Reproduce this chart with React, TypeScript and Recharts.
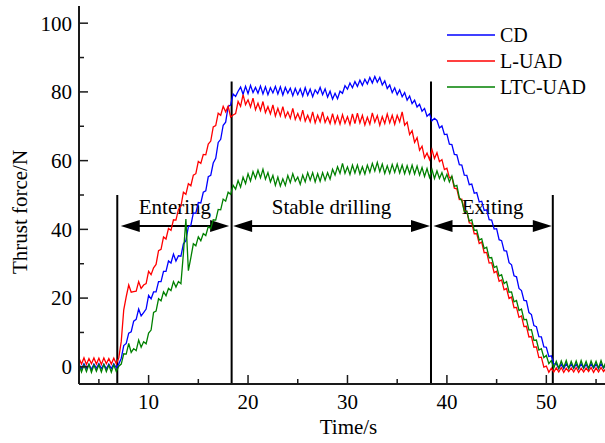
import React from 'react';
import { LineChart, Line, XAxis, YAxis, ReferenceLine, Legend } from 'recharts';

const FONT = "'Liberation Serif', 'Times New Roman', Times, serif";

// sampling instants (s), one row = 2 s
const time = [
  3, 3.25, 3.5, 3.75, 4, 4.25, 4.5, 4.75,
  5, 5.25, 5.5, 5.75, 6, 6.25, 6.5, 6.75,
  7, 7.25, 7.5, 7.75, 8, 8.25, 8.5, 8.75,
  9, 9.25, 9.5, 9.75, 10, 10.25, 10.5, 10.75,
  11, 11.25, 11.5, 11.75, 12, 12.25, 12.5, 12.75,
  13, 13.25, 13.5, 13.75, 14, 14.25, 14.5, 14.75,
  15, 15.25, 15.5, 15.75, 16, 16.25, 16.5, 16.75,
  17, 17.25, 17.5, 17.75, 18, 18.25, 18.5, 18.75,
  19, 19.25, 19.5, 19.75, 20, 20.25, 20.5, 20.75,
  21, 21.25, 21.5, 21.75, 22, 22.25, 22.5, 22.75,
  23, 23.25, 23.5, 23.75, 24, 24.25, 24.5, 24.75,
  25, 25.25, 25.5, 25.75, 26, 26.25, 26.5, 26.75,
  27, 27.25, 27.5, 27.75, 28, 28.25, 28.5, 28.75,
  29, 29.25, 29.5, 29.75, 30, 30.25, 30.5, 30.75,
  31, 31.25, 31.5, 31.75, 32, 32.25, 32.5, 32.75,
  33, 33.25, 33.5, 33.75, 34, 34.25, 34.5, 34.75,
  35, 35.25, 35.5, 35.75, 36, 36.25, 36.5, 36.75,
  37, 37.25, 37.5, 37.75, 38, 38.25, 38.5, 38.75,
  39, 39.25, 39.5, 39.75, 40, 40.25, 40.5, 40.75,
  41, 41.25, 41.5, 41.75, 42, 42.25, 42.5, 42.75,
  43, 43.25, 43.5, 43.75, 44, 44.25, 44.5, 44.75,
  45, 45.25, 45.5, 45.75, 46, 46.25, 46.5, 46.75,
  47, 47.25, 47.5, 47.75, 48, 48.25, 48.5, 48.75,
  49, 49.25, 49.5, 49.75, 50, 50.25, 50.5, 50.75,
  51, 51.25, 51.5, 51.75, 52, 52.25, 52.5, 52.75,
  53, 53.25, 53.5, 53.75, 54, 54.25, 54.5, 54.75,
  55, 55.25, 55.5, 55.75, 56,
];

// CD thrust force (N)
const cd = [
  0.8, -0.6, 0.9, -0.5, 0.7, -0.7, 0.8, -0.4,
  0.9, -0.5, 0.7, -0.6, 0.8, -0.5, 0.9, -0.3,
  0.8, 2.5, 6.2, 6.8, 9.8, 10.2, 13.3, 13.8,
  16.8, 14.8, 15.8, 16.8, 20.8, 19.8, 21.8, 21.8,
  24.8, 24.8, 27.8, 27.8, 30.8, 30.2, 32.8, 30.8,
  32.3, 32.2, 35.8, 36.7, 40.8, 41.2, 44.8, 44.7,
  47.8, 47.7, 50.8, 51.2, 55.3, 55.7, 59.3, 60.7,
  65.3, 66.2, 70.3, 71.2, 75.8, 76.2, 79.4, 78.7,
  80.2, 81.4, 79.3, 81.6, 79.5, 81.9, 79.8, 81.3,
  79.6, 81.7, 79.4, 81.5, 79.2, 81.2, 79.7, 81.6,
  79.4, 81.5, 79.1, 81.3, 79.6, 81.1, 78.9, 81.0,
  79.2, 80.9, 78.8, 81.2, 79.0, 80.8, 78.6, 80.6,
  79.5, 81.3, 79.2, 80.9, 78.5, 80.2, 77.9, 79.6,
  78.0, 80.2, 79.6, 81.8, 80.8, 82.6, 81.2, 83.0,
  81.6, 83.4, 81.9, 83.7, 82.3, 84.2, 82.6, 84.5,
  82.8, 84.2, 82.0, 83.2, 81.0, 82.0, 79.8, 81.2,
  79.2, 80.6, 78.6, 79.8, 77.6, 78.8, 76.6, 77.6,
  75.6, 76.4, 74.4, 75.2, 72.9, 73.6, 71.6, 72.3,
  71.7, 69.5, 70.1, 67.6, 67.7, 64.8, 64.7, 61.8,
  61.7, 58.8, 58.7, 55.8, 55.7, 53.0, 53.2, 50.5,
  50.7, 48.0, 48.2, 45.5, 45.7, 42.8, 42.7, 40.1,
  40.2, 37.0, 36.7, 33.8, 33.7, 30.3, 29.7, 26.5,
  26.2, 22.8, 22.2, 19.3, 19.2, 15.8, 15.2, 12.0,
  11.7, 8.8, 8.7, 5.8, 5.7, 3.0, 3.2, 0.8,
  0.9, -0.5, 0.8, -0.6, 0.9, -0.4, 0.8, -0.5,
  0.8, -0.6, 0.9, -0.5, 0.7, -0.6, 0.9, -0.4,
  0.8, -0.5, 0.9, -0.4, 0.7,
];

// L-UAD thrust force (N)
const luad = [
  2.5, 0.8, 2.6, 0.7, 2.4, 0.9, 2.6, 0.8,
  2.5, 0.7, 2.6, 0.9, 2.4, 0.8, 2.5, 0.9,
  2.6, 7.4, 16.6, 20.4, 23.8, 21.7, 21.9, 22.0,
  24.8, 22.8, 23.8, 24.2, 27.8, 26.8, 28.8, 29.8,
  33.8, 34.2, 37.8, 37.2, 40.3, 39.7, 42.8, 42.7,
  45.8, 46.7, 50.8, 50.2, 53.3, 52.7, 55.8, 56.2,
  59.8, 59.2, 61.8, 61.7, 64.8, 65.7, 69.8, 70.2,
  73.8, 73.2, 75.8, 74.2, 75.8, 72.7, 73.3, 73.7,
  77.2, 75.8, 79.2, 76.3, 77.7, 75.6, 78.2, 74.8,
  76.7, 74.6, 77.2, 74.0, 75.7, 73.6, 76.2, 73.0,
  75.2, 73.0, 75.7, 72.6, 74.2, 72.3, 75.2, 72.0,
  73.7, 71.8, 74.7, 71.5, 73.2, 71.3, 74.2, 71.0,
  73.2, 71.3, 74.2, 71.1, 72.7, 70.8, 73.7, 70.8,
  73.0, 70.6, 73.4, 70.9, 72.8, 70.5, 73.6, 70.8,
  73.8, 71.0, 73.2, 70.4, 72.6, 70.6, 73.9, 71.2,
  73.1, 70.3, 72.8, 70.8, 73.6, 71.0, 73.2, 70.6,
  73.2, 71.3, 74.2, 70.3, 71.2, 67.6, 68.7, 65.3,
  66.7, 63.0, 64.2, 60.8, 62.2, 60.3, 63.2, 60.6,
  62.3, 59.7, 60.3, 57.4, 57.8, 55.0, 55.3, 52.0,
  51.8, 48.7, 48.8, 45.4, 45.3, 41.9, 41.8, 38.7,
  38.8, 35.9, 36.3, 33.2, 33.3, 30.2, 30.3, 27.4,
  27.8, 24.9, 25.3, 22.4, 22.8, 19.9, 20.3, 17.2,
  17.3, 14.4, 14.8, 11.7, 11.8, 8.7, 8.8, 5.7,
  5.8, 2.7, 2.8, -0.1, 0.2, -1.6, -0.4, -1.5,
  -0.3, -1.5, -0.2, -1.6, -0.4, -1.4, -0.3, -1.5,
  -0.2, -1.6, -0.4, -1.5, -0.3, -1.4, -0.2, -1.6,
  -0.3, -1.5, -0.2, -1.4, -0.4,
];

// LTC-UAD thrust force (N)
const ltcuad = [
  0.6, -1.5, 0.5, -1.4, 0.7, -1.6, 0.5, -1.3,
  0.6, -1.5, 0.7, -1.4, 0.5, -1.6, 0.6, -1.4,
  0.2, 0.8, 3.8, 3.7, 6.8, 4.2, 5.3, 4.7,
  7.8, 5.7, 7.3, 6.7, 9.8, 10.7, 15.8, 16.2,
  19.8, 19.2, 21.8, 20.7, 22.8, 22.2, 24.8, 23.2,
  24.8, 24.2, 33, 43, 28, 31.8, 35.8, 35.2,
  37.8, 36.7, 38.8, 38.2, 40.8, 40.2, 42.8, 42.7,
  45.8, 45.7, 48.8, 48.2, 50.8, 50.2, 52.8, 51.7,
  54.2, 52.3, 55.2, 53.3, 56.2, 54.1, 56.8, 54.8,
  57.2, 55.0, 57.5, 54.6, 56.5, 53.8, 55.7, 52.8,
  55.2, 52.6, 54.7, 52.8, 55.7, 53.6, 56.2, 54.0,
  55.2, 53.1, 55.8, 53.8, 56.5, 54.3, 56.5, 53.8,
  56.2, 54.0, 56.5, 54.3, 56.5, 54.6, 57.5, 55.8,
  58.2, 56.3, 59.2, 56.3, 58.2, 56.0, 58.7, 56.4,
  58.7, 56.1, 58.2, 56.1, 58.7, 56.6, 59.2, 57.0,
  59.5, 56.8, 59.0, 56.3, 58.5, 56.3, 58.9, 56.6,
  59.0, 56.4, 58.7, 56.2, 58.5, 56.2, 58.7, 56.1,
  58.4, 55.8, 58.0, 55.4, 57.7, 55.1, 57.4, 54.8,
  57.0, 54.8, 56.5, 54.2, 56.0, 53.8, 55.5, 52.5,
  52.8, 49.2, 48.3, 45.2, 45.3, 42.4, 42.8, 39.7,
  39.8, 36.9, 37.3, 34.4, 34.8, 31.7, 31.8, 28.9,
  29.3, 26.4, 26.8, 24.2, 24.8, 21.7, 21.8, 18.9,
  19.3, 16.4, 16.8, 13.7, 13.8, 10.7, 10.8, 7.7,
  7.8, 4.9, 5.3, 2.7, 3.3, 0.9, 1.8, -0.3,
  1.6, -0.4, 1.7, -0.2, 1.8, -0.5, 1.6, -0.3,
  1.7, -0.4, 1.8, -0.3, 1.6, -0.5, 1.7, -0.2,
  1.6, -0.4, 1.8, -0.3, 1.5,
];

const xTicks = [5, 10, 15, 20, 25, 30, 35, 40, 45, 50, 55];
const yTicks = [0, 10, 20, 30, 40, 50, 60, 70, 80, 90, 100];

// stage boundaries (s) and the heights (N) their marker lines reach
const stageBounds = [6.85, 18.35, 38.4, 50.65];
const stageTops = [50, 83, 83, 50];
const stageNames = ['Entering', 'Stable drilling', 'Exiting'];
const stageArrowFrom = [7.2, 18.5, 38.65];
const stageArrowTo = [18.1, 38.3, 50.55];
const arrowLevel = 41;

const rows = time.map((t, i) => ({ t, cd: cd[i], luad: luad[i], ltc: ltcuad[i] }));

const AX = '#1a1a1a';
const BOTTOM_MARGIN = 10;
const LEFT_MARGIN = 7;

const BottomTick = (props: any) => {
  const { x, y, payload } = props;
  const v = payload.value;
  const major = v % 10 === 0;
  const base = y - BOTTOM_MARGIN;
  return (
    <g>
      <line x1={x} y1={base} x2={x} y2={base - (major ? 9 : 5)} stroke={AX} strokeWidth={1.5} />
      {major && (
        <text x={x} y={y} dy="0.71em" textAnchor="middle" fontSize={21} fontFamily={FONT} fill="#000">
          {v}
        </text>
      )}
    </g>
  );
};

const TopTick = (props: any) => {
  const { x, y, payload } = props;
  const major = payload.value % 10 === 0;
  return <line x1={x} y1={y} x2={x} y2={y + (major ? 9 : 5)} stroke={AX} strokeWidth={1.5} />;
};

const LeftTick = (props: any) => {
  const { x, y, payload } = props;
  const v = payload.value;
  const major = v % 20 === 0;
  const base = x + LEFT_MARGIN;
  return (
    <g>
      <line x1={base} y1={y} x2={base + (major ? 9 : 5)} y2={y} stroke={AX} strokeWidth={1.5} />
      {major && (
        <text x={x} y={y} dy="0.35em" textAnchor="end" fontSize={21} fontFamily={FONT} fill="#000">
          {v}
        </text>
      )}
    </g>
  );
};

const RightTick = (props: any) => {
  const { x, y, payload } = props;
  const major = payload.value % 20 === 0;
  return <line x1={x} y1={y} x2={x - (major ? 9 : 5)} y2={y} stroke={AX} strokeWidth={1.5} />;
};

const arrowShape = (label: string) => (props: any) => {
  const { x1, y1, x2 } = props;
  const left = Math.min(x1, x2);
  const right = Math.max(x1, x2);
  const L = 19;
  const H = 6;
  return (
    <g>
      <line x1={left + L - 2} y1={y1} x2={right - L + 2} y2={y1} stroke="#000" strokeWidth={2} />
      <polygon points={`${left},${y1} ${left + L},${y1 - H} ${left + L},${y1 + H}`} fill="#000" />
      <polygon points={`${right},${y1} ${right - L},${y1 - H} ${right - L},${y1 + H}`} fill="#000" />
      <text x={(left + right) / 2} y={y1 - 12} textAnchor="middle" fontSize={21} fontFamily={FONT} fill="#000">
        {label}
      </text>
    </g>
  );
};

const yTitle = (props: any) => {
  const vb = props.viewBox || {};
  const cx = vb.x + 20;
  const cy = vb.y + vb.height / 2 + 17;
  return (
    <text
      x={cx}
      y={cy}
      transform={`rotate(-90, ${cx}, ${cy})`}
      textAnchor="middle"
      dominantBaseline="central"
      fontSize={21}
      fontFamily={FONT}
      fill="#000"
    >
      Thrust force/N
    </text>
  );
};

const xTitle = (props: any) => {
  const vb = props.viewBox || {};
  return (
    <text x={vb.x + vb.width / 2 + 6} y={vb.y + 50} textAnchor="middle" fontSize={21} fontFamily={FONT} fill="#000">
      Time/s
    </text>
  );
};

const renderLegend = (props: any) => {
  const { payload = [] } = props;
  return (
    <div style={{ fontFamily: FONT, fontSize: 20, color: '#000' }}>
      {payload.map((e: any) => (
        <div key={e.value} style={{ display: 'flex', alignItems: 'center', height: 26 }}>
          <svg width={48} height={4} style={{ display: 'block' }}>
            <line x1={0} y1={2} x2={48} y2={2} stroke={e.color} strokeWidth={1.5} />
          </svg>
          <span style={{ marginLeft: 5, lineHeight: '26px', whiteSpace: 'nowrap' }}>{e.value}</span>
        </div>
      ))}
    </div>
  );
};

export default function App() {
  return (
    <div style={{ position: 'absolute', left: 0, top: 0, width: 605, height: 443, overflow: 'hidden', background: '#fff' }}>
      <LineChart width={607} height={443} data={rows} margin={{ top: 6, right: 1, bottom: 0, left: 0 }}>
        <XAxis
          dataKey="t"
          type="number"
          domain={[3, 56]}
          allowDataOverflow
          ticks={xTicks}
          interval={0}
          height={59}
          tickSize={0}
          tickMargin={BOTTOM_MARGIN}
          tickLine={false}
          tick={BottomTick}
          axisLine={{ stroke: AX, strokeWidth: 2 }}
          label={xTitle}
        />
        <XAxis
          xAxisId="top"
          orientation="top"
          dataKey="t"
          type="number"
          domain={[3, 56]}
          allowDataOverflow
          ticks={xTicks}
          interval={0}
          height={0}
          tickSize={0}
          tickMargin={0}
          tickLine={false}
          tick={TopTick}
          axisLine={{ stroke: AX, strokeWidth: 2 }}
        />
        <YAxis
          type="number"
          domain={[-5, 105]}
          allowDataOverflow
          ticks={yTicks}
          interval={0}
          width={79}
          tickSize={0}
          tickMargin={LEFT_MARGIN}
          tickLine={false}
          tick={LeftTick}
          axisLine={{ stroke: AX, strokeWidth: 2 }}
          label={yTitle}
        />
        <YAxis
          yAxisId="right"
          orientation="right"
          type="number"
          domain={[-5, 105]}
          allowDataOverflow
          ticks={yTicks}
          interval={0}
          width={0}
          tickSize={0}
          tickMargin={0}
          tickLine={false}
          tick={RightTick}
          axisLine={{ stroke: AX, strokeWidth: 2 }}
        />
        {stageBounds.map((b, i) => (
          <ReferenceLine
            key={`b${i}`}
            segment={[
              { x: b, y: -5 },
              { x: b, y: stageTops[i] },
            ]}
            stroke="#000"
            strokeWidth={2}
          />
        ))}
        {stageNames.map((n, i) => (
          <ReferenceLine
            key={`a${i}`}
            segment={[
              { x: stageArrowFrom[i], y: arrowLevel },
              { x: stageArrowTo[i], y: arrowLevel },
            ]}
            shape={arrowShape(n)}
          />
        ))}
        <Legend
          layout="horizontal"
          verticalAlign="middle"
          align="center"
          content={renderLegend}
          wrapperStyle={{ left: 447, top: 22, width: 160 }}
        />
        <Line dataKey="cd" name="CD" stroke="#0000ff" strokeWidth={1.3} dot={false} isAnimationActive={false} />
        <Line dataKey="luad" name="L-UAD" stroke="#ff0000" strokeWidth={1.3} dot={false} isAnimationActive={false} />
        <Line dataKey="ltc" name="LTC-UAD" stroke="#008000" strokeWidth={1.3} dot={false} isAnimationActive={false} />
      </LineChart>
    </div>
  );
}
